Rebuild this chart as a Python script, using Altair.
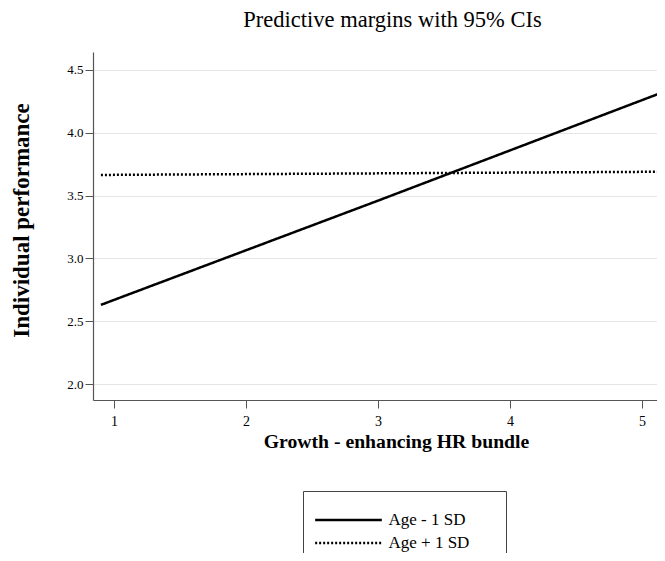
import altair as alt
import pandas as pd

# Data
x_vals = [0.90, 1, 2, 3, 4, 5, 5.25]
age_minus = [2.63, 2.67, 3.065, 3.46, 3.86, 4.26, 4.36]
age_plus = [3.664, 3.665, 3.671, 3.677, 3.683, 3.689, 3.69]
series_names = ["Age - 1 SD", "Age + 1 SD"]
x_ticks = [1, 2, 3, 4, 5]
y_ticks = [2.0, 2.5, 3.0, 3.5, 4.0, 4.5]

rows = []
for xv, a, b in zip(x_vals, age_minus, age_plus):
    rows.append({"x": xv, "y": a, "group": series_names[0]})
    rows.append({"x": xv, "y": b, "group": series_names[1]})
df = pd.DataFrame(rows)

FONT = "Liberation Serif"

chart = alt.Chart(df).mark_line(clip=True, strokeWidth=2.5, color="black").encode(
    x=alt.X("x:Q", scale=alt.Scale(domain=[0.84, 5.113], nice=False, zero=False),
            axis=alt.Axis(values=x_ticks, format="d", title="Growth - enhancing HR bundle",
                          grid=False, tickSize=8, labelPadding=6, labelFontSize=14,
                          titleX=303, titleY=47, titleAnchor="middle", titleAlign="center",
                          titleBaseline="alphabetic", titleFontSize=19.7)),
    y=alt.Y("y:Q", scale=alt.Scale(domain=[1.873, 4.643], nice=False, zero=False),
            axis=alt.Axis(values=y_ticks, format=".1f", title="Individual performance",
                          grid=True, gridColor="#e6e6e6", tickSize=8, labelPadding=2,
                          labelFontSize=13, titleX=-65, titleY=168, titleAngle=-90,
                          titleAlign="center", titleBaseline="alphabetic", titleFontSize=23)),
    strokeDash=alt.StrokeDash("group:N",
        scale=alt.Scale(domain=series_names, range=[[1, 0], [2, 2]]),
        legend=alt.Legend(title="ww", titleFontSize=14, titlePadding=0, titleOrient="right",
                          titleColor="white", orient="none",
                          legendX=210, legendY=439, symbolType="M-2.9,0H2.9", symbolSize=529,
                          symbolOffset=16.5, symbolStrokeWidth=2.5, symbolStrokeColor="black",
                          symbolFillColor="transparent",
                          labelFontSize=17, labelOffset=27, rowPadding=2, padding=16,
                          strokeColor="#444", fillColor="white")),
).properties(
    width=564, height=348,
    title=alt.TitleParams("Predictive margins with 95% CIs", fontSize=22.5, font=FONT,
                          fontWeight="normal", anchor="middle", dx=17.5, offset=21),
    autosize=alt.AutoSizeParams(type="none"),
    padding={"left": 85, "top": 44, "right": 0, "bottom": 153},
).configure_view(stroke=None).configure_axis(
    labelFont=FONT, titleFont=FONT, titleFontWeight="bold", labelColor="black",
    titleColor="black", domainColor="#555", tickColor="#555", domainWidth=1.2,
).configure_legend(labelFont=FONT, labelColor="black", titleFont=FONT)

chart.save("out.html", embed_options={"renderer": "svg", "actions": False})
